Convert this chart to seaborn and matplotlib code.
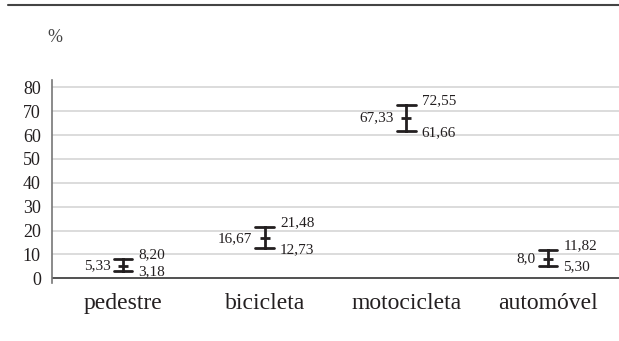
import matplotlib
matplotlib.use("Agg")
import matplotlib.pyplot as plt
import seaborn as sns
import pandas as pd

# ── Data ──────────────────────────────────────────────────────────────────────
categories = ["pedestre", "bicicleta", "motocicleta", "automóvel"]
means = [5.33, 16.67, 67.33, 8.0]
lower = [3.18, 12.73, 61.66, 5.30]
upper = [8.20, 21.48, 72.55, 11.82]
mean_labels = ["5,33", "16,67", "67,33", "8,0"]
lower_labels = ["3,18", "12,73", "61,66", "5,30"]
upper_labels = ["8,20", "21,48", "72,55", "11,82"]
yticks = [0, 10, 20, 30, 40, 50, 60, 70, 80]

# long table: median of (lo, mean, hi) = mean, 100% interval = lo..hi
rows = []
for c, lo, m, hi in zip(categories, lower, means, upper):
    for v in (lo, m, hi):
        rows.append({"modo": c, "valor": v})
df = pd.DataFrame(rows)

sns.set_theme(style="white")
plt.rcParams["font.family"] = ["Liberation Serif", "DejaVu Serif"]

ink = "#231f20"
fig = plt.figure(figsize=(6.19, 3.41), dpi=100)
ax = fig.add_axes([0.084, 0.170, 0.916, 0.595])

sns.pointplot(data=df, x="modo", y="valor", order=categories,
              estimator="median", errorbar=("pi", 100),
              linestyle="none", marker="_", markersize=7, markeredgewidth=2,
              color=ink, capsize=0.13, err_kws={"linewidth": 2}, ax=ax)

ax.set_xlim(-0.5, 3.5)
ax.set_ylim(-2, 83)
ax.set_yticks(yticks)
ax.set_yticklabels([str(t) for t in yticks], fontsize=13)
ax.set_xticks(range(len(categories)))
ax.set_xticklabels(categories, fontsize=17, color=ink)
ax.set_xlabel("")
ax.set_ylabel("")

for t in yticks[1:]:
    ax.axhline(t, color="#d6d6d6", linewidth=1.2, zorder=0)
ax.axhline(0, color="#333333", linewidth=1.2, zorder=1)

for s in ["top", "right", "bottom"]:
    ax.spines[s].set_visible(False)
ax.spines["left"].set_color("#777777")
ax.spines["left"].set_linewidth(1.2)
ax.tick_params(axis="y", length=5, color="#d6d6d6", width=1.2, pad=3, labelcolor=ink)
ax.tick_params(axis="x", length=0, pad=7)

for i in range(len(categories)):
    ax.annotate(mean_labels[i], (i, means[i]), xytext=(-9, 0),
                textcoords="offset points", ha="right", va="center",
                fontsize=11, color=ink)
    ax.annotate(upper_labels[i], (i, upper[i]), xytext=(11, 3),
                textcoords="offset points", ha="left", va="center",
                fontsize=11, color=ink)
    ax.annotate(lower_labels[i], (i, lower[i]), xytext=(11, -1),
                textcoords="offset points", ha="left", va="center",
                fontsize=11, color=ink)

# top rule and unit
fig.add_artist(plt.Line2D([8 / 619, 1.0], [1 - 5 / 341, 1 - 5 / 341],
                          color="#444444", linewidth=1.5))
fig.text(47 / 619, 1 - 38 / 341, "%", fontsize=13, color="#444444", va="center")

fig.savefig("out.png", dpi=100)
